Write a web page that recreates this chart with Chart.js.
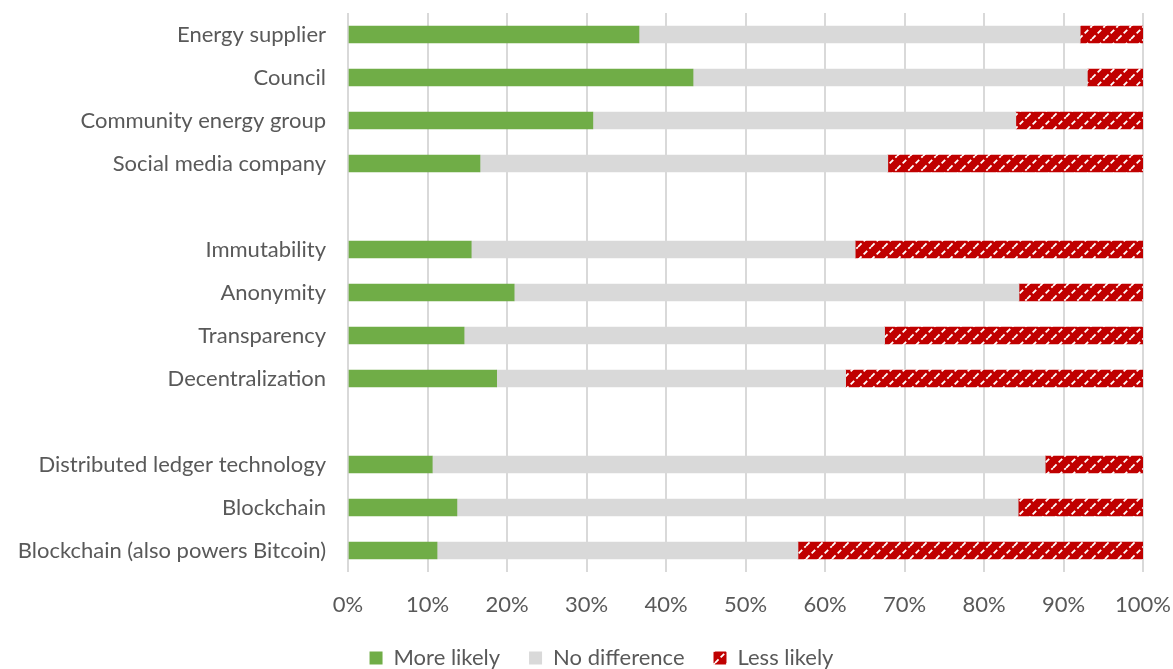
<!DOCTYPE html>
<html>
<head>
<meta charset="utf-8">
<script src="https://cdn.jsdelivr.net/npm/chart.js@4/dist/chart.umd.min.js"></script>
<style>
  html, body { margin: 0; padding: 0; background: #fff; }
  #wrap { width: 1173px; height: 669px; position: relative; }
</style>
</head>
<body>
<div id="wrap"><canvas id="chart"></canvas></div>
<script>
// --- data ---
const categories = [
    'Energy supplier', 'Council', 'Community energy group', 'Social media company', '',
    'Immutability', 'Anonymity', 'Transparency', 'Decentralization', '',
    'Distributed ledger technology', 'Blockchain', 'Blockchain (also powers Bitcoin)'
];
const moreLikely   = [36.6, 43.4, 30.8, 16.6, null, 15.5, 20.9, 14.6, 18.7, null, 10.6, 13.7, 11.2];
const noDifference = [55.5, 49.6, 53.2, 51.3, null, 48.3, 63.5, 52.9, 43.9, null, 77.1, 70.6, 45.4];
const lessLikely   = [7.9, 7.0, 16.0, 32.1, null, 36.2, 15.6, 32.5, 37.4, null, 12.3, 15.7, 43.4];
const xTicks = [0, 10, 20, 30, 40, 50, 60, 70, 80, 90, 100];

const textColor = '#595959';
const fontFamily = 'Lato, "Open Sans", sans-serif';

// red with white dashed diagonal hatch
function makeHatch() {
    const c = document.createElement('canvas');
    c.width = 13; c.height = 13;
    const g = c.getContext('2d');
    g.fillStyle = '#C00000';
    g.fillRect(0, 0, 13, 13);
    g.strokeStyle = '#ffffff';
    g.lineWidth = 1.8;
    g.setLineDash([5, 3]);
    for (let o = -13; o <= 13; o += 13) {
        g.beginPath();
        g.moveTo(o, 13);
        g.lineTo(o + 13, 0);
        g.stroke();
    }
    return g.createPattern(c, 'repeat');
}
const hatch = makeHatch();

// the legend sits a little right of centre in the original
const shiftLegend = {
    id: 'shiftLegend',
    afterLayout(chart) {
        chart.legend.left += 30;
        chart.legend.right += 30;
    }
};

const ctx = document.getElementById('chart').getContext('2d');

new Chart(ctx, {
    type: 'bar',
    data: {
        labels: categories,
        datasets: [
            { label: 'More likely', data: moreLikely, backgroundColor: '#70AD47' },
            { label: 'No difference', data: noDifference, backgroundColor: '#D9D9D9' },
            { label: 'Less likely', data: lessLikely, backgroundColor: hatch }
        ]
    },
    plugins: [shiftLegend],
    options: {
        indexAxis: 'y',
        responsive: true,
        maintainAspectRatio: false,
        animation: false,
        datasets: { bar: { barThickness: 17, borderWidth: 0 } },
        layout: { padding: { top: 13, right: 30, left: 0, bottom: 0 } },
        plugins: {
            tooltip: { enabled: false },
            legend: {
                position: 'bottom',
                maxHeight: 51,
                labels: {
                    color: textColor,
                    boxWidth: 13,
                    boxHeight: 13,
                    padding: 29,
                    font: { family: fontFamily, size: 22 }
                }
            }
        },
        scales: {
            x: {
                stacked: true,
                min: 0,
                max: 100,
                afterBuildTicks: s => { s.ticks = xTicks.map(v => ({ value: v })); },
                afterFit: s => { s.height = 46; s.paddingLeft = 0; s.paddingRight = 0; },
                grid: { color: '#D9D9D9', lineWidth: 2, drawTicks: false },
                border: { display: false },
                ticks: {
                    color: textColor,
                    padding: 20,
                    font: { family: fontFamily, size: 22 },
                    callback: v => v + '%'
                }
            },
            y: {
                stacked: true,
                afterFit: s => { s.width = 348; s.paddingTop = 0; s.paddingBottom = 0; },
                grid: { display: false, drawTicks: false },
                border: { display: false },
                ticks: {
                    color: textColor,
                    padding: 22,
                    font: { family: fontFamily, size: 22 }
                }
            }
        }
    }
});
</script>
</body>
</html>
